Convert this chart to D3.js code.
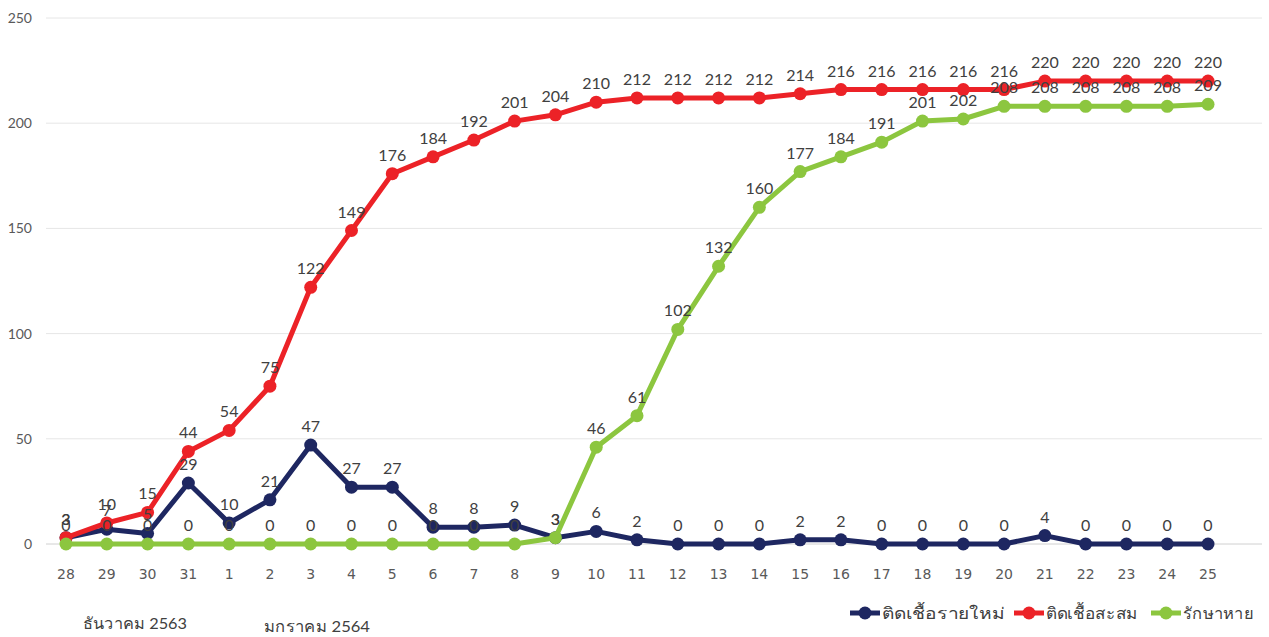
<!DOCTYPE html>
<html>
<head>
<meta charset="utf-8">
<script src="https://cdn.jsdelivr.net/npm/d3@7"></script>
<style>
  body { margin: 0; background: #fff; font-family: Lato, "Noto Sans", sans-serif; }
</style>
</head>
<body>
<svg id="chart" width="1269" height="637"></svg>
<script>
// x-axis days (Dec 28 2563 -> Jan 25 2564)
const days = ['28','29','30','31','1','2','3','4','5','6','7','8','9','10','11','12','13','14','15','16','17','18','19','20','21','22','23','24','25'];

// series values
const newCases = [3,7,5,29,10,21,47,27,27,8,8,9,3,6,2,0,0,0,2,2,0,0,0,0,4,0,0,0,0];
const totalCases = [3,10,15,44,54,75,122,149,176,184,192,201,204,210,212,212,212,212,214,216,216,216,216,216,220,220,220,220,220];
const recovered = [0,0,0,0,0,0,0,0,0,0,0,0,3,46,61,102,132,160,177,184,191,201,202,208,208,208,208,208,209];

const yTicks = [0,50,100,150,200,250];
const monthLabels = ['ธันวาคม 2563', 'มกราคม 2564'];

const series = [
  {name: 'ติดเชื้อรายใหม่', values: newCases, color: '#1e2761'},
  {name: 'ติดเชื้อสะสม', values: totalCases, color: '#ec2227'},
  {name: 'รักษาหาย', values: recovered, color: '#8cc63f'}
];

const svg = d3.select('#chart');

const x = d3.scalePoint().domain(days).range([66, 1208]);
const y = d3.scaleLinear().domain([0, 250]).range([544, 18]);

// gridlines
svg.append('g')
  .selectAll('line')
  .data(yTicks)
  .join('line')
  .attr('x1', 46).attr('x2', 1262)
  .attr('y1', d => y(d)).attr('y2', d => y(d))
  .attr('stroke', d => d === 0 ? '#d0d0d0' : '#e6e6e6')
  .attr('stroke-width', 1);

// y tick labels
svg.append('g')
  .selectAll('text')
  .data(yTicks)
  .join('text')
  .attr('x', 32)
  .attr('y', d => y(d) + 5)
  .attr('text-anchor', 'end')
  .attr('font-size', 14)
  .attr('fill', '#595959')
  .text(d => d);

// x tick labels
svg.append('g')
  .selectAll('text')
  .data(days)
  .join('text')
  .attr('x', d => x(d))
  .attr('y', 579)
  .attr('text-anchor', 'middle')
  .attr('font-family', '"DejaVu Sans", sans-serif')
  .attr('font-size', 14)
  .attr('fill', '#595959')
  .text(d => d);

// month labels under the axis
svg.append('text').attr('x', 135).attr('y', 629).attr('text-anchor', 'middle')
  .attr('font-size', 16).attr('fill', '#404040')
  .attr('textLength', 104).attr('lengthAdjust', 'spacingAndGlyphs')
  .text(monthLabels[0]);
svg.append('text').attr('x', 317).attr('y', 632).attr('text-anchor', 'middle')
  .attr('font-size', 16).attr('fill', '#404040')
  .attr('textLength', 106).attr('lengthAdjust', 'spacingAndGlyphs')
  .text(monthLabels[1]);

const line = d3.line()
  .x((d, i) => x(days[i]))
  .y(d => y(d));

// lines + markers
series.forEach(s => {
  const g = svg.append('g');
  g.append('path')
    .datum(s.values)
    .attr('d', line)
    .attr('fill', 'none')
    .attr('stroke', s.color)
    .attr('stroke-width', 5)
    .attr('stroke-linejoin', 'round');
  g.selectAll('circle')
    .data(s.values)
    .join('circle')
    .attr('cx', (d, i) => x(days[i]))
    .attr('cy', d => y(d))
    .attr('r', 6.5)
    .attr('fill', s.color);
});

// data labels (drawn last, above everything)
series.forEach(s => {
  svg.append('g')
    .selectAll('text')
    .data(s.values)
    .join('text')
    .attr('x', (d, i) => x(days[i]))
    .attr('y', d => y(d) - 13)
    .attr('text-anchor', 'middle')
    .attr('font-size', 16)
    .attr('fill', '#404040')
    .text(d => d);
});

// legend
const legend = svg.append('g');
const legendX = [850, 1014, 1151];
const legendW = [123, 92, 70];
series.forEach((s, i) => {
  const lg = legend.append('g').attr('transform', `translate(${legendX[i]},613)`);
  lg.append('line').attr('x1', 0).attr('x2', 30).attr('y1', 0).attr('y2', 0)
    .attr('stroke', s.color).attr('stroke-width', 5);
  lg.append('circle').attr('cx', 15).attr('cy', 0).attr('r', 6.5).attr('fill', s.color);
  lg.append('text').attr('x', 32).attr('y', 6).attr('font-size', 16)
    .attr('fill', '#404040')
    .attr('textLength', legendW[i]).attr('lengthAdjust', 'spacingAndGlyphs')
    .text(s.name);
});
</script>
</body>
</html>
